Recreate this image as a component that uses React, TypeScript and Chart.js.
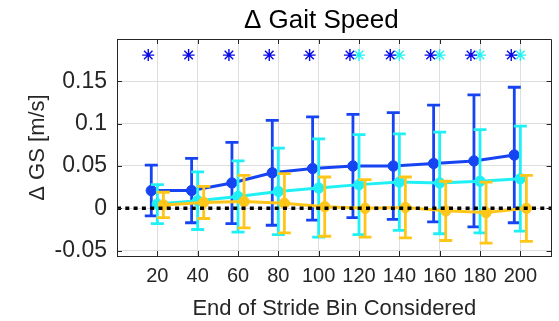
import React, { useEffect, useRef } from 'react';
import { Chart, registerables } from 'chart.js';

Chart.register(...registerables);

// ---- data ----
const bins = [20, 40, 60, 80, 100, 120, 140, 160, 180, 200];
const blueMean = [0.021, 0.021, 0.030, 0.042, 0.047, 0.050, 0.050, 0.053, 0.056, 0.063];
const blueErr = [0.030, 0.038, 0.048, 0.062, 0.061, 0.061, 0.063, 0.069, 0.078, 0.080];
const cyanMean = [0.005, 0.009, 0.014, 0.020, 0.024, 0.028, 0.031, 0.030, 0.032, 0.035];
const cyanErr = [0.023, 0.034, 0.042, 0.051, 0.058, 0.059, 0.057, 0.060, 0.061, 0.062];
const yellowMean = [0.004, 0.007, 0.008, 0.006, 0.002, 0.000, 0.001, -0.003, -0.005, 0.000];
const yellowErr = [0.015, 0.019, 0.031, 0.035, 0.035, 0.034, 0.036, 0.035, 0.036, 0.039];
const blueSigBins = [20, 40, 60, 80, 100, 120, 140, 160, 180, 200];
const cyanSigBins = [120, 140, 160, 180, 200];
const sigLevel = 0.181;
const xTickValues = [20, 40, 60, 80, 100, 120, 140, 160, 180, 200];
const yTickValues = [-0.05, 0, 0.05, 0.1, 0.15];
const yTickLabels = ['-0.05', '0', '0.05', '0.1', '0.15'];
const xRange = [0, 215.5];
const yRange = [-0.0563, 0.2];

const titleText = 'Δ Gait Speed';
const xTitle = 'End of Stride Bin Considered';
const yTitle = 'Δ GS [m/s]';

// ---- style ----
const FONT = '"Liberation Sans", Arial, Helvetica, sans-serif';
const BLUE = '#1744f2';
const CYAN = '#1ff0f5';
const YELLOW = '#ffc61a';
const SIG_BLUE = '#0a0ae6';
const SIG_CYAN = '#22f2f2';
const AXIS = '#262626';
const GRID = '#dedede';

const decorPlugin = {
  id: 'decor',
  beforeDatasetDraw(chart: any, args: any) {
    const ds = chart.data.datasets[args.index];
    if (!ds.errors) return;
    const ctx = chart.ctx;
    const xs = chart.scales.x;
    const ys = chart.scales.y;
    const cap = 6.5;
    ctx.save();
    ctx.strokeStyle = ds.borderColor;
    ctx.lineWidth = 2.8;
    ctx.lineCap = 'butt';
    ds.data.forEach((p: any, i: number) => {
      const px = xs.getPixelForValue(p.x);
      const top = ys.getPixelForValue(p.y + ds.errors[i]);
      const bot = ys.getPixelForValue(p.y - ds.errors[i]);
      ctx.beginPath();
      ctx.moveTo(px, top);
      ctx.lineTo(px, bot);
      ctx.moveTo(px - cap, top);
      ctx.lineTo(px + cap, top);
      ctx.moveTo(px - cap, bot);
      ctx.lineTo(px + cap, bot);
      ctx.stroke();
    });
    ctx.restore();
  },
  afterDraw(chart: any) {
    const ctx = chart.ctx;
    const { left, right, top, bottom } = chart.chartArea;
    const xs = chart.scales.x;
    const ys = chart.scales.y;
    const tl = 5;
    ctx.save();
    ctx.strokeStyle = AXIS;
    ctx.lineWidth = 1;
    ctx.beginPath();
    xTickValues.forEach((v) => {
      const px = Math.round(xs.getPixelForValue(v)) + 0.5;
      ctx.moveTo(px, bottom);
      ctx.lineTo(px, bottom - tl);
      ctx.moveTo(px, top);
      ctx.lineTo(px, top + tl);
    });
    yTickValues.forEach((v) => {
      const py = Math.round(ys.getPixelForValue(v)) + 0.5;
      ctx.moveTo(left, py);
      ctx.lineTo(left + tl, py);
      ctx.moveTo(right, py);
      ctx.lineTo(right - tl, py);
    });
    ctx.stroke();
    ctx.beginPath();
    ctx.rect(Math.round(left) + 0.5, Math.round(top) + 0.5, Math.round(right - left) - 1, Math.round(bottom - top));
    ctx.stroke();
    // title
    ctx.fillStyle = '#000000';
    ctx.font = `26px ${FONT}`;
    ctx.textAlign = 'center';
    ctx.textBaseline = 'alphabetic';
    ctx.fillText(titleText, (left + right) / 2 - 13, 28);
    ctx.restore();
  },
};

export default function App() {
  const ref = useRef<HTMLCanvasElement | null>(null);

  useEffect(() => {
    if (!ref.current) return;
    const mk = (xs: number[], ys: number[], off: number) => xs.map((x, i) => ({ x: x + off, y: ys[i] }));
    const lineDs = (label: string, color: string, mean: number[], err: number[], off: number, order: number) => ({
      label,
      data: mk(bins, mean, off),
      errors: err,
      borderColor: color,
      backgroundColor: color,
      borderWidth: 3,
      pointRadius: 5.2,
      pointBorderWidth: 1,
      pointBackgroundColor: color,
      pointBorderColor: color,
      pointHoverRadius: 5.2,
      tension: 0,
      order,
    });
    const chart = new Chart(ref.current, {
      type: 'line',
      data: {
        datasets: [
          lineDs('Blue', BLUE, blueMean, blueErr, -3, 4) as any,
          lineDs('Cyan', CYAN, cyanMean, cyanErr, 0, 3) as any,
          lineDs('Yellow', YELLOW, yellowMean, yellowErr, 3, 2) as any,
          {
            label: 'Zero',
            data: [
              { x: xRange[0], y: 0 },
              { x: xRange[1], y: 0 },
            ],
            borderColor: '#000000',
            borderWidth: 3.5,
            borderDash: [4, 4.3],
            pointRadius: 0,
            order: 1,
          },
          {
            label: 'SigBlue',
            data: blueSigBins.map((b) => ({ x: b - 4.5, y: sigLevel })),
            showLine: false,
            pointStyle: 'star',
            pointRadius: 6,
            pointBorderWidth: 1.4,
            pointBorderColor: SIG_BLUE,
            pointBackgroundColor: SIG_BLUE,
            borderColor: SIG_BLUE,
            order: 0,
          },
          {
            label: 'SigCyan',
            data: cyanSigBins.map((b) => ({ x: b, y: sigLevel })),
            showLine: false,
            pointStyle: 'star',
            pointRadius: 6,
            pointBorderWidth: 1.4,
            pointBorderColor: SIG_CYAN,
            pointBackgroundColor: SIG_CYAN,
            borderColor: SIG_CYAN,
            order: 0,
          },
        ],
      },
      options: {
        responsive: false,
        animation: false,
        events: [],
        layout: { padding: { left: 0, right: 1, top: 39, bottom: 0 } },
        plugins: {
          legend: { display: false },
          tooltip: { enabled: false },
          title: { display: false },
        },
        scales: {
          x: {
            type: 'linear',
            min: xRange[0],
            max: xRange[1],
            afterBuildTicks: (s: any) => {
              s.ticks = xTickValues.map((v) => ({ value: v }));
            },
            afterFit: (s: any) => {
              s.height = 65;
            },
            grid: { color: GRID, lineWidth: 1, drawTicks: false },
            border: { display: true, color: AXIS, width: 1 },
            ticks: {
              color: AXIS,
              font: { family: FONT, size: 20, lineHeight: 1.2 },
              padding: 8.5,
              maxRotation: 0,
              autoSkip: false,
              callback: (v: any) => String(v),
            },
            title: {
              display: true,
              text: xTitle,
              color: AXIS,
              font: { family: FONT, size: 22, lineHeight: 1 },
              padding: { top: 0, bottom: 1 },
            },
          },
          y: {
            type: 'linear',
            min: yRange[0],
            max: yRange[1],
            afterBuildTicks: (s: any) => {
              s.ticks = yTickValues.map((v) => ({ value: v }));
            },
            afterFit: (s: any) => {
              s.width = 117;
            },
            grid: { color: GRID, lineWidth: 1, drawTicks: false },
            border: { display: true, color: AXIS, width: 1 },
            ticks: {
              color: AXIS,
              font: { family: FONT, size: 23, lineHeight: 1.2 },
              padding: 10,
              autoSkip: false,
              callback: (v: any) => {
                const i = yTickValues.indexOf(v);
                return i >= 0 ? yTickLabels[i] : '';
              },
            },
            title: {
              display: true,
              text: yTitle,
              color: AXIS,
              font: { family: FONT, size: 22, lineHeight: 1 },
              padding: { top: 27, bottom: 0 },
            },
          },
        },
      },
      plugins: [decorPlugin],
    } as any);
    return () => chart.destroy();
  }, []);

  return (
    <div style={{ position: 'fixed', left: 0, top: 0, width: 559, height: 321, background: '#ffffff' }}>
      <canvas ref={ref} width={559} height={321} style={{ display: 'block', width: 559, height: 321 }} />
    </div>
  );
}
